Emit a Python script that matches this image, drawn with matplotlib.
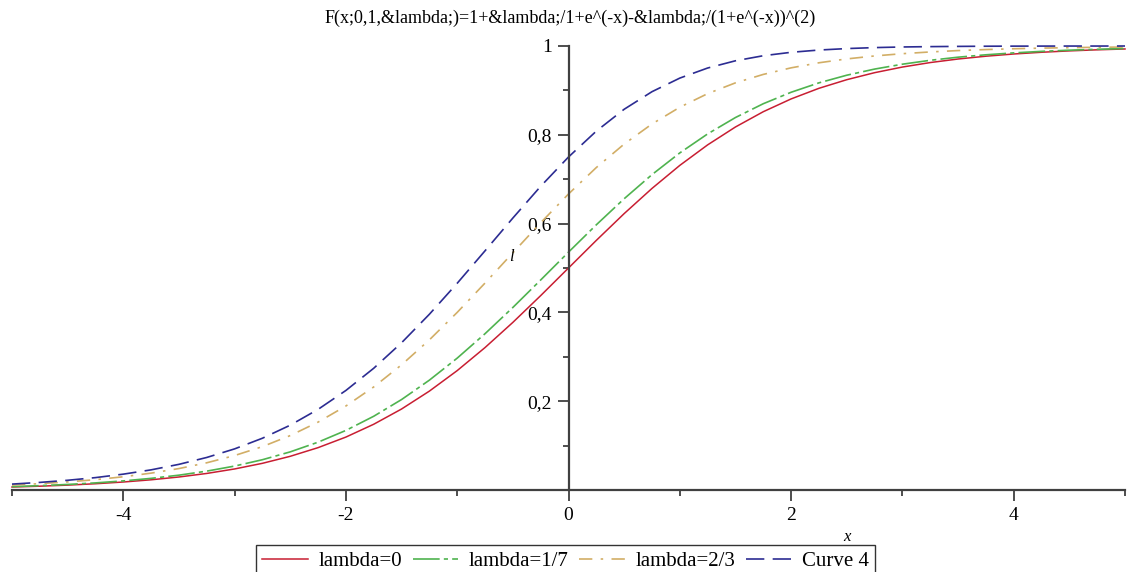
import matplotlib
matplotlib.use('Agg')
import matplotlib.pyplot as plt
from matplotlib.ticker import FixedLocator, FuncFormatter

# x positions read along the horizontal axis
x = [-5, -4.75, -4.5, -4.25, -4, -3.75, -3.5, -3.25, -3, -2.75, -2.5, -2.25,
     -2, -1.75, -1.5, -1.25, -1, -0.75, -0.5, -0.25, 0, 0.25, 0.5, 0.75,
     1, 1.25, 1.5, 1.75, 2, 2.25, 2.5, 2.75, 3, 3.25, 3.5, 3.75, 4, 4.25,
     4.5, 4.75, 5]

# lambda=0
f_l0 = [0.0067, 0.0086, 0.0110, 0.0141, 0.0180, 0.0230, 0.0293, 0.0373,
        0.0474, 0.0601, 0.0759, 0.0954, 0.1192, 0.1481, 0.1824, 0.2227,
        0.2689, 0.3208, 0.3775, 0.4378, 0.5000, 0.5622, 0.6225, 0.6792,
        0.7311, 0.7773, 0.8176, 0.8520, 0.8808, 0.9047, 0.9241, 0.9399,
        0.9526, 0.9627, 0.9707, 0.9770, 0.9820, 0.9859, 0.9890, 0.9914,
        0.9933]
# lambda=1/7
f_l17 = [0.0076, 0.0098, 0.0125, 0.0160, 0.0205, 0.0262, 0.0334, 0.0425,
         0.0539, 0.0682, 0.0859, 0.1077, 0.1342, 0.1661, 0.2037, 0.2474,
         0.2970, 0.3520, 0.4111, 0.4730, 0.5357, 0.5973, 0.6560, 0.7103,
         0.7592, 0.8020, 0.8389, 0.8700, 0.8958, 0.9170, 0.9342, 0.9480,
         0.9590, 0.9678, 0.9748, 0.9802, 0.9845, 0.9879, 0.9906, 0.9926,
         0.9943]
# lambda=2/3
f_l23 = [0.0111, 0.0143, 0.0182, 0.0233, 0.0298, 0.0380, 0.0483, 0.0613,
         0.0776, 0.0977, 0.1226, 0.1529, 0.1892, 0.2321, 0.2819, 0.3381,
         0.4000, 0.4661, 0.5342, 0.6019, 0.6667, 0.7263, 0.7791, 0.8244,
         0.8621, 0.8927, 0.9170, 0.9360, 0.9508, 0.9622, 0.9709, 0.9776,
         0.9827, 0.9866, 0.9897, 0.9920, 0.9938, 0.9952, 0.9963, 0.9971,
         0.9977]
# Curve 4
f_c4 = [0.0133, 0.0171, 0.0219, 0.0279, 0.0357, 0.0454, 0.0578, 0.0733,
        0.0926, 0.1166, 0.1460, 0.1816, 0.2242, 0.2742, 0.3316, 0.3958,
        0.4656, 0.5387, 0.6125, 0.6840, 0.7500, 0.8083, 0.8575, 0.8971,
        0.9277, 0.9504, 0.9667, 0.9781, 0.9858, 0.9909, 0.9942, 0.9964,
        0.9978, 0.9986, 0.9991, 0.9995, 0.9997, 0.9998, 0.9999, 0.9999,
        1.0000]

labels = ['lambda=0', 'lambda=1/7', 'lambda=2/3', 'Curve 4']
xticks = [-4, -2, 0, 2, 4]
yticks = [0.2, 0.4, 0.6, 0.8, 1.0]

title = 'F(x;0,1,&lambda;)=1+&lambda;/1+e^(-x)-&lambda;/(1+e^(-x))^(2)'

plt.rcParams['font.family'] = ['Liberation Serif', 'DejaVu Serif']

fig = plt.figure(figsize=(11.27, 5.72), dpi=100)
ax = fig.add_axes([12 / 1127, 1 - 490 / 572, 1113 / 1127, 444 / 572])

ax.plot(x, f_l0, color='#c81e32', lw=1.1, label=labels[0], clip_on=False)
ax.plot(x, f_l17, color='#4fb34f', lw=1.2, dashes=(16, 2.5, 2.5, 2.5),
        label=labels[1], clip_on=False)
ax.plot(x, f_l23, color='#d2ae66', lw=1.2, dashes=(8, 5, 1.5, 5),
        label=labels[2], clip_on=False)
ax.plot(x, f_c4, color='#2c2c92', lw=1.2, dashes=(11, 5),
        label=labels[3], clip_on=False)

ax.set_xlim(-5, 5)
ax.set_ylim(0, 1)

for side in ['top', 'right']:
    ax.spines[side].set_visible(False)
ax.spines['left'].set_position(('data', 0))
ax.spines['bottom'].set_position(('data', 0))
for side in ['left', 'bottom']:
    ax.spines[side].set_color('#404040')
    ax.spines[side].set_linewidth(1.6)

ax.xaxis.set_major_locator(FixedLocator(xticks))
ax.xaxis.set_minor_locator(FixedLocator([-5, -3, -1, 1, 3, 5]))
ax.yaxis.set_major_locator(FixedLocator(yticks))
ax.yaxis.set_minor_locator(FixedLocator([0.1, 0.3, 0.5, 0.7, 0.9]))
ax.xaxis.set_major_formatter(FuncFormatter(lambda v, p: '%d' % v))
ax.yaxis.set_major_formatter(
    FuncFormatter(lambda v, p: '1' if v == 1 else ('%.1f' % v).replace('.', ',')))

ax.tick_params(which='major', direction='out', length=8, width=1.3,
               color='#404040', labelsize=14, pad=4)
ax.tick_params(which='minor', direction='out', length=4, width=1.3,
               color='#404040')

fig.text(570 / 1127, 1 - 18 / 572, title, ha='center', va='center',
         fontsize=13)
fig.text(847 / 1127, 1 - 537 / 572, 'x', ha='center', va='center',
         fontsize=12, style='italic')
fig.text(511 / 1127, 1 - 257 / 572, 'l', ha='center', va='center',
         fontsize=12, style='italic')

fig.legend(loc='upper left', bbox_to_anchor=(256 / 1127, 1 - 545 / 572),
           ncol=4, frameon=True, fancybox=False, edgecolor='black',
           fontsize=15, handlelength=2.2, handletextpad=0.5,
           columnspacing=0.5, borderpad=0.3, borderaxespad=0)
fig.legends[0].get_frame().set_linewidth(1.0)

fig.savefig('out.png', dpi=100)
